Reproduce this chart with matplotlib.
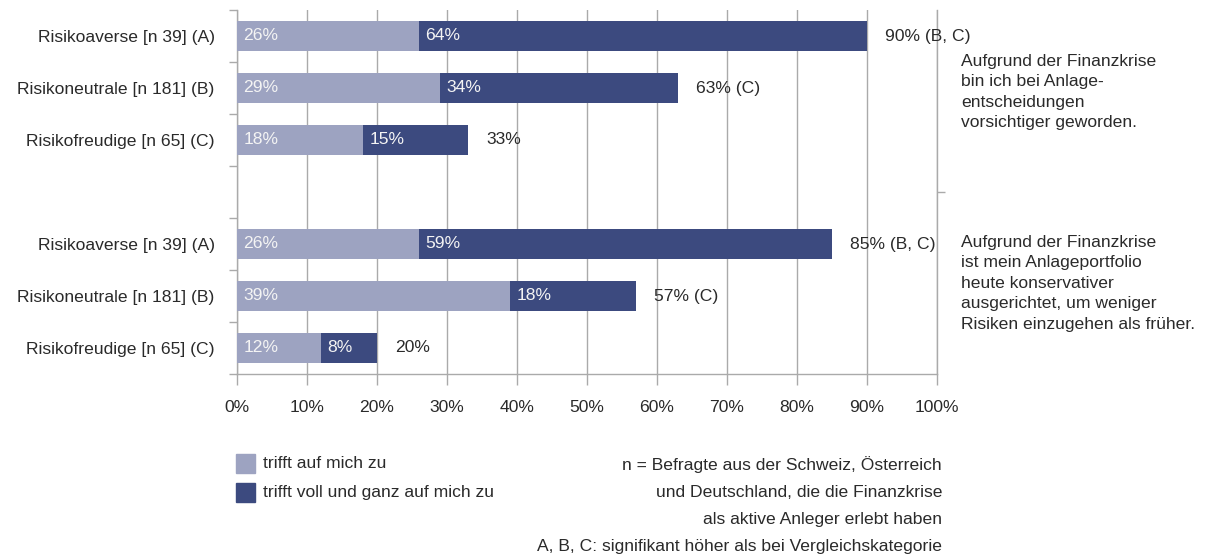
import matplotlib
matplotlib.use("Agg")
import matplotlib.pyplot as plt
from matplotlib.patches import Rectangle

plt.rcParams['font.family'] = ['Liberation Sans', 'DejaVu Sans']
plt.rcParams['font.size'] = 12.6

# data
labels = ['Risikoaverse [n 39] (A)', 'Risikoneutrale [n 181] (B)', 'Risikofreudige [n 65] (C)', '',
          'Risikoaverse [n 39] (A)', 'Risikoneutrale [n 181] (B)', 'Risikofreudige [n 65] (C)']
trifft = [26, 29, 18, None, 26, 39, 12]
voll = [64, 34, 15, None, 59, 18, 8]
total_labels = ['90% (B, C)', '63% (C)', '33%', None, '85% (B, C)', '57% (C)', '20%']
statements = ['Aufgrund der Finanzkrise\nbin ich bei Anlage-\nentscheidungen\nvorsichtiger geworden.',
              'Aufgrund der Finanzkrise\nist mein Anlageportfolio\nheute konservativer\nausgerichtet, um weniger\nRisiken einzugehen als früher.']
legend_labels = ['trifft auf mich zu', 'trifft voll und ganz auf mich zu']
note = ['n = Befragte aus der Schweiz, Österreich',
        'und Deutschland, die die Finanzkrise',
        'als aktive Anleger erlebt haben',
        'A, B, C: signifikant höher als bei Vergleichskategorie']

c_light = '#9da3c1'
c_dark = '#3c4a7f'
grey = '#aaaaaa'
txt = '#2a2a2a'

W, H = 1213, 558
fig = plt.figure(figsize=(W / 100, H / 100), dpi=100)
ax = fig.add_axes([237 / W, (H - 374) / H, 700 / W, 364 / H])

rows = [i for i in range(len(labels)) if trifft[i] is not None]
for i in rows:
    a, b = trifft[i], voll[i]
    ax.barh(i, a, height=0.56, color=c_light, zorder=3)
    ax.barh(i, b, left=a, height=0.56, color=c_dark, zorder=3)
    ax.annotate(f'{a}%', (0, i), xytext=(4.5, 0), textcoords='offset points',
                va='center', ha='left', color='#f4f4f4', zorder=4)
    ax.annotate(f'{b}%', (a, i), xytext=(4.5, 0), textcoords='offset points',
                va='center', ha='left', color='#f4f4f4', zorder=4)
    ax.annotate(total_labels[i], (a + b, i), xytext=(13, 0), textcoords='offset points',
                va='center', ha='left', color=txt, zorder=4)

ax.set_xlim(0, 100)
ax.set_ylim(6.5, -0.5)
ax.set_xticks(range(0, 101, 10))
ax.set_xticklabels([f'{v}%' for v in range(0, 101, 10)], color=txt)
ax.set_yticks(rows)
ax.set_yticklabels([labels[i] for i in rows], color=txt)
ax.set_yticks([k - 0.5 for k in range(8)], minor=True)
ax.tick_params(axis='y', which='major', length=0, pad=16)
ax.tick_params(axis='y', which='minor', length=6, width=1, color=grey, left=True)
ax.tick_params(axis='x', length=8, width=1, color=grey, pad=11)

ax.grid(axis='x', color=grey, linewidth=1, zorder=0)
for s in ['left', 'bottom', 'right']:
    ax.spines[s].set_color(grey)
    ax.spines[s].set_linewidth(1)
ax.spines['top'].set_visible(False)

ax2 = ax.twinx()
ax2.set_ylim(6.5, -0.5)
ax2.set_yticks([3])
ax2.set_yticklabels([])
ax2.tick_params(axis='y', length=6, width=1, color=grey)
for s in ax2.spines.values():
    s.set_visible(False)

# statement texts right of the plot
ax.annotate(statements[0], (100, 0), xytext=(17.5, -13), textcoords='offset points',
            va='top', ha='left', color=txt, linespacing=1.45, annotation_clip=False)
ax.annotate(statements[1], (100, 4), xytext=(17.5, 6.5), textcoords='offset points',
            va='top', ha='left', color=txt, linespacing=1.45, annotation_clip=False)

# legend
for k, (lab, col) in enumerate(zip(legend_labels, [c_light, c_dark])):
    yc = 463 + 29 * k
    fig.patches.append(Rectangle((236 / W, (H - yc - 9.5) / H), 19 / W, 19 / H,
                                 transform=fig.transFigure, color=col))
    fig.text(263 / W, (H - yc) / H, lab, va='center', ha='left', color=txt)

for k, line in enumerate(note):
    fig.text(942 / W, (H - (465 + 27.3 * k)) / H, line, va='center', ha='right', color=txt)

fig.savefig('out.png', dpi=100)
